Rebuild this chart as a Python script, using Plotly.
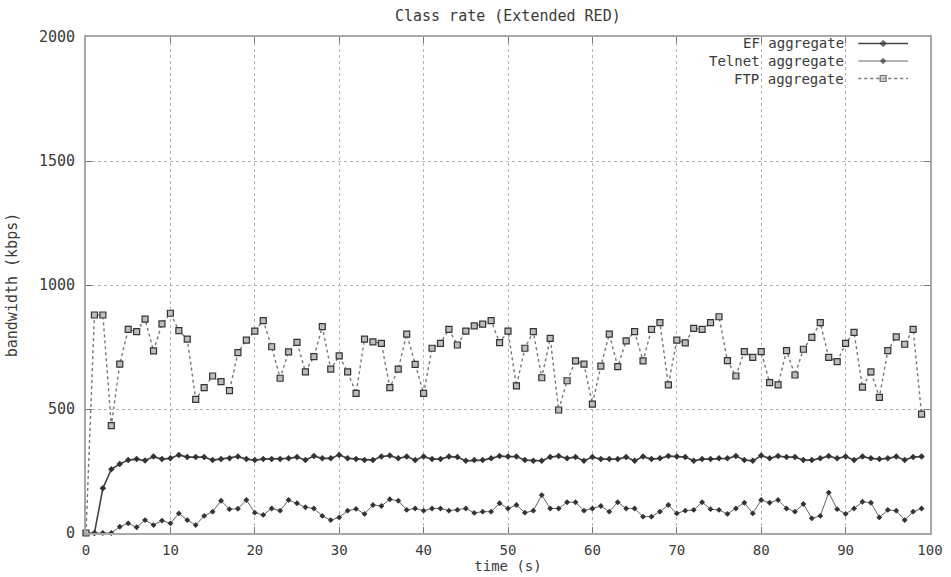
import plotly.graph_objects as go

# time axis (s)
time_s = list(range(100))

# aggregate class rates (kbps)
ef_rate = [0, 0, 180, 257, 278, 294, 298, 292, 308, 298,
           301, 315, 306, 306, 306, 294, 298, 301, 308, 298,
           294, 298, 298, 298, 301, 306, 294, 310, 301, 301,
           315, 301, 298, 294, 294, 308, 312, 301, 308, 294,
           308, 298, 298, 308, 306, 291, 294, 294, 301, 310,
           308, 308, 294, 291, 291, 306, 310, 301, 306, 291,
           306, 298, 298, 298, 306, 291, 308, 298, 301, 310,
           308, 306, 291, 298, 298, 301, 301, 310, 294, 291,
           312, 301, 310, 306, 306, 294, 294, 301, 310, 301,
           308, 294, 308, 301, 298, 301, 308, 294, 306, 308]

telnet_rate = [0, 0, 0, 0, 25, 39, 23, 52, 32, 50,
               39, 79, 52, 32, 69, 86, 130, 96, 98, 133,
               82, 73, 99, 90, 133, 120, 104, 99, 69, 52,
               63, 90, 97, 77, 113, 109, 136, 130, 93, 99,
               90, 99, 99, 90, 93, 99, 81, 86, 86, 120,
               99, 113, 82, 90, 153, 99, 99, 124, 124, 90,
               99, 109, 86, 124, 99, 99, 66, 66, 86, 113,
               79, 90, 93, 124, 96, 93, 77, 99, 122, 79,
               133, 122, 133, 99, 86, 117, 59, 69, 163, 96,
               77, 99, 126, 122, 63, 93, 90, 52, 86, 99]

ftp_rate = [0, 879, 879, 433, 681, 821, 812, 862, 734, 843,
            886, 816, 782, 539, 586, 633, 610, 574, 727, 778,
            814, 856, 751, 624, 730, 769, 650, 711, 832, 661,
            714, 650, 563, 782, 771, 765, 586, 661, 802, 680,
            563, 745, 765, 821, 758, 814, 835, 842, 856, 768,
            814, 593, 745, 812, 626, 785, 496, 614, 694, 681,
            520, 673, 802, 671, 775, 812, 694, 821, 848, 597,
            778, 767, 825, 821, 848, 872, 695, 633, 731, 708,
            731, 606, 597, 735, 637, 741, 789, 848, 708, 691,
            765, 809, 588, 650, 547, 735, 791, 761, 821, 479]

series_names = ["EF aggregate", "Telnet aggregate", "FTP aggregate"]
x_ticks = list(range(0, 101, 10))
y_ticks = list(range(0, 2001, 500))

FONT = "DejaVu Sans Mono"
FSIZE = 15
XSIZE = 14
KEY_SIZE = 14
TXT = "#3a3a3a"

styles = [
    dict(line=dict(color="#444444", width=1.6, dash="solid"),
         marker=dict(symbol="diamond", size=5, color="#333333")),
    dict(line=dict(color="#666666", width=1.0, dash="solid"),
         marker=dict(symbol="diamond", size=4.5, color="#333333")),
    dict(line=dict(color="#777777", width=1.4, dash="dot"),
         marker=dict(symbol="square", size=6, color="#bdbdbd",
                     line=dict(color="#333333", width=1.2))),
]

fig = go.Figure()
for name, values, st in zip(series_names, [ef_rate, telnet_rate, ftp_rate], styles):
    fig.add_trace(go.Scatter(
        x=time_s, y=values, name=name, mode="lines+markers",
        line=st["line"], marker=st["marker"], cliponaxis=False,
        showlegend=False,
    ))

# gnuplot-style key: label on the left, line sample on the right
key_rows = [0.9869, 0.9516, 0.9163]
key_text_x = 0.899
key_line = (0.915, 0.974)
for name, st, ky in zip(series_names, styles, key_rows):
    fig.add_annotation(
        x=key_text_x, y=ky, xref="paper", yref="paper", text=name,
        showarrow=False, xanchor="right", yanchor="middle", borderpad=0,
        font=dict(family=FONT, size=KEY_SIZE, color=TXT),
    )
    fig.add_trace(go.Scatter(
        x=[key_line[0], (key_line[0] + key_line[1]) / 2, key_line[1]],
        y=[ky, ky, ky], xaxis="x2", yaxis="y2", mode="lines+markers",
        line=st["line"], marker=dict(st["marker"], size=[0, st["marker"]["size"], 0]),
        showlegend=False, hoverinfo="skip", cliponaxis=False,
    ))

axis_common = dict(
    showline=True, linecolor="#a8a8a8", linewidth=2, mirror="ticks",
    ticks="inside", ticklen=6, tickcolor="#777777", tickwidth=1,
    showgrid=True, gridcolor="#b4b4b4", griddash="dot", gridwidth=1,
    zeroline=False, automargin=False,
)

fig.update_layout(
    width=951, height=577,
    margin=dict(l=86, r=21, t=37, b=44),
    paper_bgcolor="white", plot_bgcolor="white",
    title=dict(text="Class rate (Extended RED)", x=0.534, xanchor="center",
               y=0.972, yanchor="middle",
               font=dict(family=FONT, size=FSIZE, color=TXT)),
    xaxis=dict(axis_common, range=[0, 100], tickvals=x_ticks,
               ticklabelstandoff=3,
               tickfont=dict(family=FONT, size=XSIZE, color=TXT),
               title=dict(text="time (s)", standoff=3,
                          font=dict(family=FONT, size=XSIZE, color=TXT))),
    yaxis=dict(axis_common, range=[0, 2000], tickvals=y_ticks,
               ticklabelstandoff=6,
               tickfont=dict(family=FONT, size=FSIZE, color=TXT),
               title=dict(text="bandwidth (kbps)", standoff=18,
                          font=dict(family=FONT, size=FSIZE, color=TXT))),
    xaxis2=dict(overlaying="x", range=[0, 1], visible=False),
    yaxis2=dict(overlaying="y", range=[0, 1], visible=False),
    showlegend=False,
)

fig.write_html("out.html")
